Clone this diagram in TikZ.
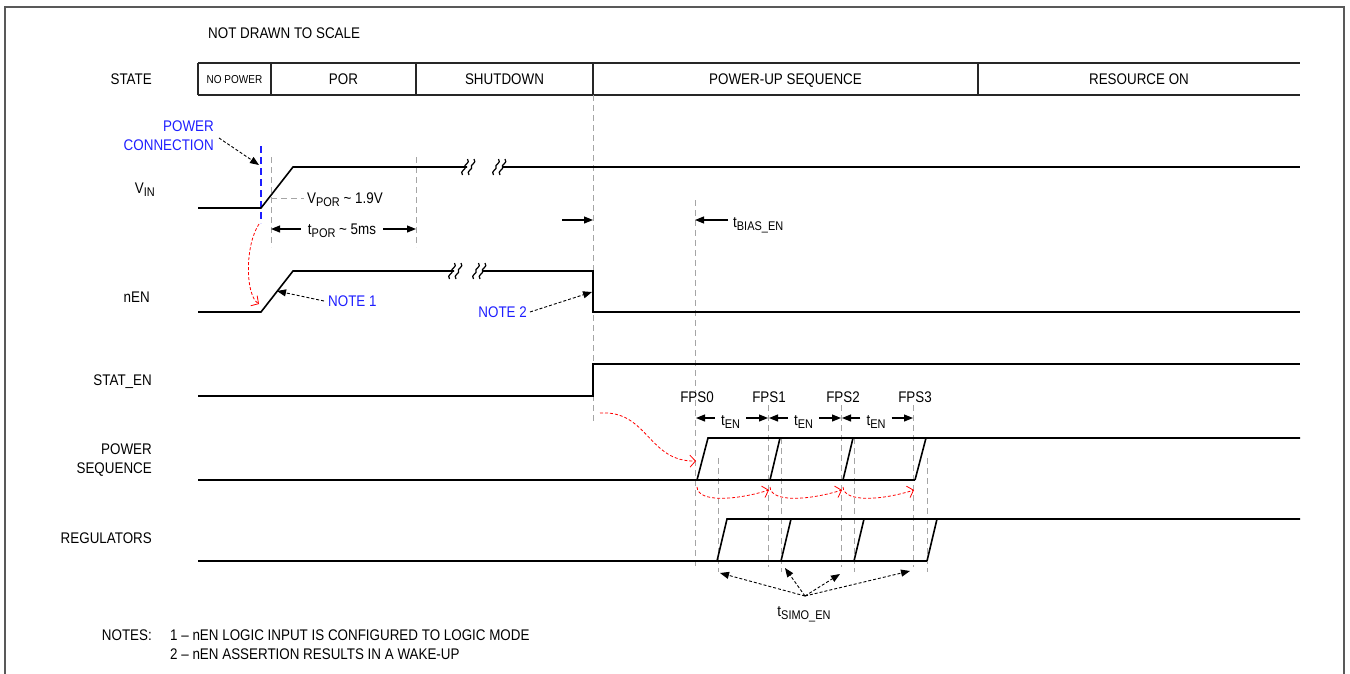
\documentclass[tikz,border=0pt]{standalone}
\usepackage{fontspec}
\setmainfont{Liberation Sans}[FakeStretch=0.87]
\usetikzlibrary{arrows.meta}
\definecolor{noteblue}{RGB}{30,30,255}
\definecolor{dashgray}{RGB}{165,165,165}
\newcommand\sbs[1]{\raisebox{-2.8pt}{\fontsize{12.6}{13}\selectfont #1}}
\newcommand\squigpair[2]{%
  \foreach \dx in {0,6.5}{%
    \draw[line width=1.2pt] ({#1+\dx-2.5},{#2+8}) .. controls ({#1+\dx-6},{#2+4}) and ({#1+\dx+2},{#2+2}) .. ({#1+\dx},{#2})
      .. controls ({#1+\dx-2},{#2-2}) and ({#1+\dx+6},{#2-4}) .. ({#1+\dx+2.5},{#2-8});}}
\begin{document}
\begin{tikzpicture}[x=1pt,y=-1pt,
  lbl/.style={font=\fontsize{15.4}{17}\selectfont, inner sep=0pt, text height=11pt, text depth=0pt},
  small/.style={font=\fontsize{11.5}{13}\selectfont, inner sep=0pt, text height=8.3pt, text depth=0pt},
  bluetxt/.style={lbl, text=noteblue},
  sig/.style={line width=1.6pt, line join=miter},
  bar/.style={line width=1.1pt, black!85},
  gdash/.style={draw=dashgray, line width=0.9pt, dash pattern=on 6pt off 4pt},
  dim/.style={line width=1.1pt, -{Triangle[length=9pt,width=7pt]}},
  notearrow/.style={line width=0.9pt, dash pattern=on 3pt off 2pt, -{Triangle[length=9pt,width=7pt]}},
  redc/.style={red, line width=0.8pt, dash pattern=on 3pt off 2pt, -{Straight Barb[length=5.5pt,width=12pt]}},
]
\fill[white] (0,0) rectangle (1350,673);
\useasboundingbox (0,0) rectangle (1350,673);
\draw[black!65, line width=1.2pt] (5,7) rectangle (1344,680);

% title
\node[lbl, anchor=west] (title) at (208,33) {NOT DRAWN TO SCALE};

% state bar
\node[lbl, anchor=east] (lstate) at (152,79) {STATE};
\draw[bar] (198,63) -- (1300,63) (198,95) -- (1300,95);
\foreach \x in {198,271,416,593,978} \draw[bar] (\x,63) -- (\x,95);
\node[small] (snp) at (234.5,79) {NO POWER};
\node[lbl] (spor) at (343.5,79) {POR};
\node[lbl] (ssd) at (504.5,79) {SHUTDOWN};
\node[lbl] (spu) at (785.5,79) {POWER-UP SEQUENCE};
\node[lbl] (sro) at (1139,79) {RESOURCE ON};

% signal labels
\node[lbl, anchor=east] (lvin) at (155,188) {V\sbs{IN}};
\node[lbl, anchor=east] (lnen) at (150,297) {nEN};
\node[lbl, anchor=east] (lstat) at (152,380) {STAT\_EN};
\node[lbl, anchor=east] (lps1) at (152,449) {POWER};
\node[lbl, anchor=east] (lps2) at (152,468) {SEQUENCE};
\node[lbl, anchor=east] (lreg) at (152,538) {REGULATORS};

% dashed gray guides
\draw[gdash] (271,157) -- (271,247);
\draw[gdash] (416,157) -- (416,247);
\draw[gdash] (271,198) -- (304,198);
\draw[gdash] (593,95) -- (593,423);
\draw[gdash] (695,200) -- (695,568);
\foreach \x in {768,841,913} \draw[gdash] (\x,405) -- (\x,567);
\foreach \x in {718,927} \draw[gdash] (\x,458) -- (\x,572);
\foreach \x in {781,854} \draw[gdash] (\x,438) -- (\x,572);
\draw[noteblue, line width=1.2pt, dash pattern=on 7pt off 4pt] (261,146) -- (261,223);

% VIN
\draw[sig] (198,208) -- (261,208) -- (293,167) -- (467,167);
\squigpair{465}{167}
\squigpair{496}{167}
\draw[sig] (502,167) -- (1300,167);

% nEN
\draw[sig] (198,312) -- (261,312) -- (293,271) -- (454,271);
\squigpair{452}{271}
\squigpair{476}{271}
\draw[sig] (482,271) -- (593,271) -- (593,312) -- (1300,312);

% STAT_EN
\draw[sig] (198,396) -- (593,396) -- (593,364) -- (1300,364);

% POWER SEQUENCE
\draw[sig] (198,480) -- (915,480);
\draw[sig] (697,480) -- (708,438) -- (1300,438);
\draw[sig] (770,480) -- (780,438);
\draw[sig] (843,480) -- (853,438);
\draw[sig] (915,480) -- (926,438);

% REGULATORS
\draw[sig] (198,561) -- (927,561);
\draw[sig] (717,561) -- (727,519) -- (1300,519);
\draw[sig] (781,561) -- (791,519);
\draw[sig] (854,561) -- (864,519);
\draw[sig] (927,561) -- (937,519);

% VPOR, tPOR
\node[lbl, anchor=west] (vpor) at (307,198) {V\sbs{POR} \textasciitilde\ 1.9V};
\node[lbl] (tpor) at (342,229) {t\sbs{POR} \textasciitilde\ 5ms};
\coordinate (porL) at (271,229);
\coordinate (porR) at (416,229);
\draw[dim] (tpor.west) ++(-7,0) -- (porL);
\draw[dim] (tpor.east) ++(7,0) -- (porR);

% tBIAS_EN
\coordinate (biasL) at (593,220);
\coordinate (biasR) at (695,220);
\draw[dim] (562,220) -- (biasL);
\node[lbl, anchor=west] (tbias) at (733,222) {t\sbs{BIAS\_EN}};
\draw[dim] (tbias.west) ++(-5,-2) -- (biasR);

% FPS labels
\node[lbl] (fps0) at (697,397) {FPS0};
\node[lbl] (fps1) at (769,397) {FPS1};
\node[lbl] (fps2) at (843,397) {FPS2};
\node[lbl] (fps3) at (915,397) {FPS3};

% tEN dims
\foreach \a/\b/\n in {695/768/1,768/841/2,841/913/3}{
  \node[lbl] (ten\n) at ({(\a+\b)/2-1},420) {t\sbs{EN}};
  \draw[dim] (ten\n.west) ++(-6,-2) -- (\a+1,418);
  \draw[dim] (ten\n.east) ++(6,-2) -- (\b,418);
}

% power connection
\node[bluetxt, anchor=east] (pc1) at (214,126) {POWER};
\node[bluetxt, anchor=east] (pc2) at (214,145) {CONNECTION};
\coordinate (pctip) at (259,165);
\draw[notearrow] (219,138) -- (pctip);

% NOTE 1
\node[bluetxt, anchor=west] (n1) at (328,301) {NOTE 1};
\coordinate (n1tip) at (277,291);
\draw[notearrow] (n1.west) ++(-4,0) -- (n1tip);

% NOTE 2
\node[bluetxt, anchor=east] (n2) at (527,312) {NOTE 2};
\coordinate (n2tip) at (592,292);
\draw[notearrow] (n2.east) ++(3,0) -- (n2tip);

% red causal arrows
\draw[redc] (259,224) .. controls (245,245) and (245,295) .. (259,304);
\draw[redc] (600,413) .. controls (648,410) and (648,462) .. (696,461);
\foreach \a/\b in {697/768,770/841,843/913}
  \draw[redc] (\a,487) .. controls (\a+1,503) and (\a+40,500) .. (\b+1,490);

% tSIMO_EN
\coordinate (hub) at (805,596);
\draw[notearrow] (hub) -- (720,573);
\draw[notearrow] (hub) -- (785,568);
\draw[notearrow] (hub) -- (840,574);
\draw[notearrow] (hub) -- (910,571);
\node[lbl] (tsimo) at (804,611) {t\sbs{SIMO\_EN}};

% notes
\node[lbl, anchor=east] (notes) at (152,635) {NOTES:};
\node[lbl, anchor=west] (note1) at (170,635) {1 – nEN LOGIC INPUT IS CONFIGURED TO LOGIC MODE};
\node[lbl, anchor=west] (note2) at (170,654) {2 – nEN ASSERTION RESULTS IN A WAKE-UP};
\end{tikzpicture}
\end{document}
